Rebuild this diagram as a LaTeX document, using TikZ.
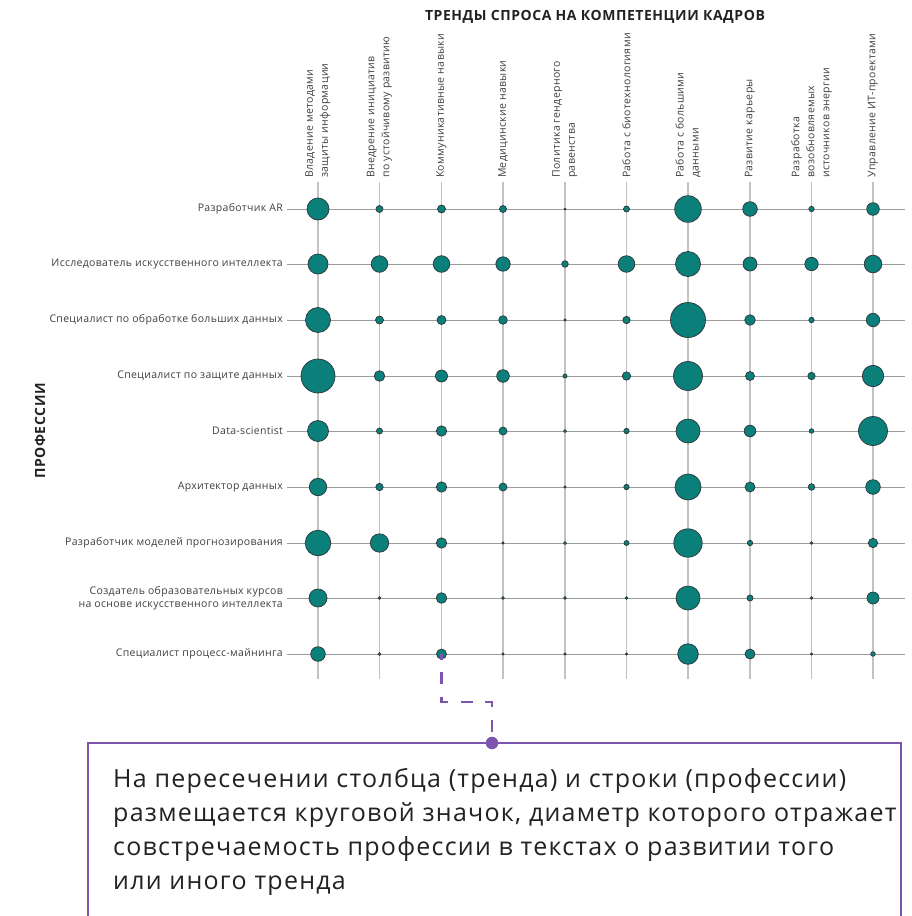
\documentclass[tikz,border=0pt]{standalone}
\usepackage{fontspec}
\setmainfont{Open Sans}
\newfontfamily\labelfont[LetterSpace=3]{Open Sans}
\newfontfamily\headfont[LetterSpace=4]{Open Sans}
\newfontfamily\notefont[LetterSpace=5]{Open Sans}
\definecolor{bubfill}{HTML}{0B7F7A}
\definecolor{bubline}{HTML}{2B3636}
\definecolor{gridv}{HTML}{C2C2C2}
\definecolor{gridh}{HTML}{9C9C9C}
\definecolor{labeltext}{HTML}{404040}
\definecolor{headtext}{HTML}{222222}
\definecolor{accent}{HTML}{7D55AE}
\begin{document}
\begin{tikzpicture}[x=1pt,y=-1pt,
  collabel/.style={rotate=90,anchor=west,align=left,inner xsep=4pt,inner ysep=0pt,
    text=labeltext,font=\labelfont\fontsize{10.5}{15}\selectfont},
  rowlabel/.style={anchor=east,align=right,inner xsep=4pt,inner ysep=0pt,
    text=labeltext,font=\labelfont\fontsize{10.5}{13.5}\selectfont},
  vline/.style={draw=gridv,line width=1.3pt},
  hline/.style={draw=gridh,line width=0.8pt},
  bub/.style={circle,inner sep=0pt,fill=bubfill,draw=bubline,line width=0.7pt},
  heading/.style={text=headtext,font=\headfont\fontsize{14}{16}\selectfont\bfseries},
  callout/.style={draw=accent,line width=2.2pt},
  leader/.style={draw=accent,line width=2.6pt,dash pattern=on 12pt off 12.5pt,dash phase=6.5pt}
]
\useasboundingbox (0,0) rectangle (912,916);
\fill[white] (0,0) rectangle (912,916);

% headings
\node[heading] (title) at (595,17) {ТРЕНДЫ СПРОСА НА КОМПЕТЕНЦИИ КАДРОВ};
\node[heading,rotate=90] (proftitle) at (40,431) {ПРОФЕССИИ};

% trend columns: label above, grid line below it
\foreach \x/\t [count=\i] in {
  318/{Владение методами\\защиты информации},
  379.5/{Внедрение инициатив\\по устойчивому развитию},
  441.5/{Коммуникативные навыки},
  503/{Медицинские навыки},
  565/{Политика гендерного\\равенства},
  626.5/{Работа с биотехнологиями},
  688/{Работа с большими\\данными},
  750/{Развитие карьеры},
  811.5/{Разработка\\возобновляемых\\источников энергии},
  873/{Управление ИТ-проектами}} {
  \node[collabel] (cl\i) at (\x,182) {\t};
  \coordinate (cb\i) at (\x,679);
}

% profession rows: label on the left, grid line to the right
\foreach \y/\t [count=\j] in {
  209/{Разработчик AR},
  264/{Исследователь искусственного интеллекта},
  320/{Специалист по обработке больших данных},
  376/{Специалист по защите данных},
  431/{Data-scientist},
  487/{Архитектор данных},
  543/{Разработчик моделей прогнозирования},
  598/{Создатель образовательных курсов\\на основе искусственного интеллекта},
  654/{Специалист процесс-майнинга}} {
  \node[rowlabel] (rl\j) at (287,\y) {\t};
  \coordinate (re\j) at (905,\y);
}

% grid
\foreach \i in {1,2,4,5,6,7,8,9,10} \draw[vline] (cl\i.west) -- (cb\i);
\draw[vline] (cl3.west) -- (cl3.west |- re9);
\foreach \j in {1,...,9} \draw[hline] (rl\j.east) -- (re\j);

% bubbles: radius per profession (row) and trend (column)
\foreach \row [count=\j] in {
  {11,3.5,4,3.5,1,3,13.3,7.3,2.7,6.3},
  {10,8.3,8.3,7.2,3.3,8.3,12.5,7,6.7,8.8},
  {12.5,4,4.5,4.3,1.2,3.7,17.5,5.3,2.7,6.7},
  {17,5.3,6,6.3,2,4.2,14.5,4.5,3.7,10.7},
  {10.5,3,5.2,4,1.5,2.7,12,5.8,2.3,14.5},
  {8.7,3.7,5.2,4,1.2,2.7,13,5,3.3,7.3},
  {12.8,9.2,5.2,1.2,1.5,2.5,14.2,2.7,1.3,4.7},
  {9,1.3,5.3,1.3,1.3,1.3,12,3,1.3,6},
  {7.3,1.5,5,1.2,1.2,1.2,10.3,5,1.2,2.3}} {
  \foreach \r [count=\i] in \row {
    \node[bub,minimum size={2*\r pt}] (b\j-\i) at (cb\i |- re\j) {};
  }
}

% explanatory callout
\coordinate (boxbl) at (88,917);
\coordinate (boxtl) at (88,743);
\coordinate (boxtr) at (901,743);
\coordinate (boxbr) at (901,917);
\draw[callout] (boxbl) -- (boxtl) -- (boxtr) -- (boxbr);
\node[circle,fill=accent,inner sep=0pt,minimum size=12.5pt] (pin) at (492,743) {};
\coordinate (bend1) at (441.5,702);
\coordinate (bend2) at (492,702);
\draw[leader] (b9-3.center) -- (bend1) -- (bend2) -- (pin.center);
\node[anchor=north west,align=left,inner sep=0pt,text=headtext,
  font=\notefont\fontsize{25}{34}\selectfont] (note) at (113,768)
  {На пересечении столбца (тренда) и строки (профессии)\\
   размещается круговой значок, диаметр которого отражает\\
   совстречаемость профессии в текстах о развитии того\\
   или иного тренда};
\end{tikzpicture}
\end{document}
